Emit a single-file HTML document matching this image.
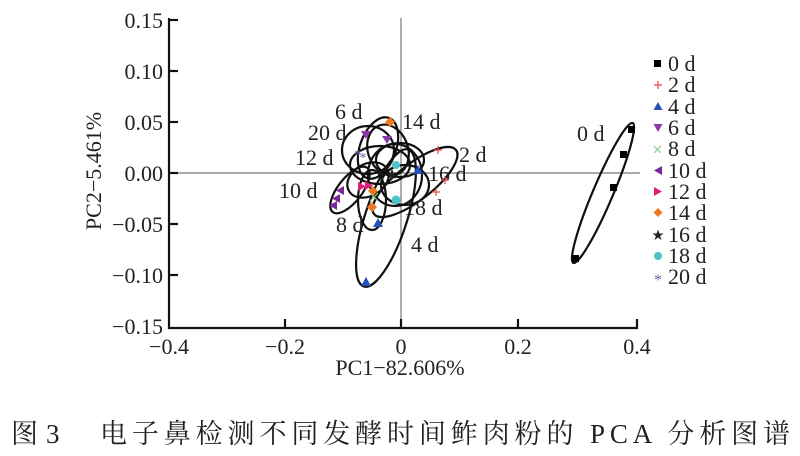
<!DOCTYPE html>
<html><head><meta charset="utf-8"><style>
body{margin:0;background:#fff;width:800px;height:451px;overflow:hidden}
svg text{font-family:"Liberation Serif","Noto Serif CJK SC",serif;fill:#222}
</style></head><body>
<svg width="800" height="451" viewBox="0 0 800 451" xmlns="http://www.w3.org/2000/svg">
<g stroke="#777" stroke-width="1.2"><line x1="401" y1="18" x2="401" y2="328"/><line x1="169" y1="173" x2="640" y2="173"/></g>
<g stroke="#111" stroke-width="2.2" fill="none">
<polyline points="169,18 169,328 638,328"/>
<line x1="169" y1="20" x2="178" y2="20"/><line x1="169" y1="71" x2="178" y2="71"/><line x1="169" y1="122" x2="178" y2="122"/><line x1="169" y1="173" x2="178" y2="173"/><line x1="169" y1="224" x2="178" y2="224"/><line x1="169" y1="275" x2="178" y2="275"/>
<line x1="285" y1="328" x2="285" y2="319"/><line x1="401" y1="328" x2="401" y2="319"/><line x1="518" y1="328" x2="518" y2="319"/><line x1="637" y1="328" x2="637" y2="319"/>
</g>
<g font-size="22" text-anchor="end">
<text x="163" y="28">0.15</text><text x="163" y="79">0.10</text><text x="163" y="130">0.05</text><text x="163" y="181">0.00</text><text x="163" y="232">−0.05</text><text x="163" y="283">−0.10</text><text x="163" y="334">−0.15</text>
</g>
<g font-size="22" text-anchor="middle">
<text x="169" y="354">−0.4</text><text x="285" y="354">−0.2</text><text x="401" y="354">0</text><text x="518" y="354">0.2</text><text x="637" y="354">0.4</text>
<text x="400" y="375">PC1−82.606%</text>
<text transform="translate(101,171) rotate(-90)">PC2−5.461%</text>
</g>
<g stroke="#111" stroke-width="2.2" fill="none">
<ellipse cx="603" cy="193" rx="76" ry="10" transform="rotate(-67 603 193)"/>
<ellipse cx="386" cy="218" rx="72" ry="21" transform="rotate(-72 386 218)"/>
<ellipse cx="415" cy="182" rx="52" ry="18" transform="rotate(-38 415 182)"/>
<ellipse cx="350" cy="190" rx="28" ry="12" transform="rotate(-52 350 190)"/>
<ellipse cx="368" cy="150" rx="26" ry="24"/>
<ellipse cx="378" cy="148" rx="18" ry="32" transform="rotate(20 378 148)"/>
<ellipse cx="380" cy="165" rx="30" ry="19"/>
<ellipse cx="395" cy="175" rx="27" ry="31"/>
<ellipse cx="372" cy="200" rx="14" ry="30"/>
<ellipse cx="368" cy="180" rx="22" ry="16" transform="rotate(-30 368 180)"/>
<ellipse cx="400" cy="160" rx="24" ry="17"/>
<ellipse cx="388" cy="150" rx="20" ry="26" transform="rotate(-20 388 150)"/>
<ellipse cx="405" cy="185" rx="24" ry="20"/>
</g>
<g font-size="22">
<text x="577" y="141">0 d</text><text x="459" y="162">2 d</text><text x="428" y="181">16 d</text><text x="404" y="215">18 d</text><text x="411" y="252">4 d</text><text x="336" y="232">8 d</text><text x="279" y="198">10 d</text><text x="295" y="165">12 d</text><text x="308" y="140">20 d</text><text x="335" y="119">6 d</text><text x="402" y="129">14 d</text>
</g>
<g>
<rect x="628" y="126" width="7" height="7" fill="#000"/><rect x="620" y="151" width="7" height="7" fill="#000"/><rect x="610" y="184" width="7" height="7" fill="#000"/><rect x="572" y="255" width="7" height="7" fill="#000"/>
<g stroke="#e44" stroke-width="1.2"><path d="M434 150h8M438 146v8M441 180h8M445 176v8M432 192h8M436 188v8"/></g>
<path d="M418 165l5 9h-10zM378 218l5 9h-10zM366 277l5 9h-10z" fill="#2850b8"/>
<path d="M361 131h10l-5 8zM382 136h10l-5 8z" fill="#8a3aa8"/>
<path d="M344 186v9l-8-4.5zM340 194v9l-8-4.5zM337 201v9l-8-4.5z" fill="#7a2a98"/>
<path d="M358 182v9l8-4.5zM365 181v9l8-4.5z" fill="#e0207a"/>
<path d="M390 117l5 5-5 5-5-5zM373 186l5 5-5 5-5-5zM372 202l5 5-5 5-5-5z" fill="#f07820"/>
<path d="M370 193l8 8M378 193l-8 8" stroke="#8c8" stroke-width="1.2"/>
<circle cx="396" cy="200" r="4.5" fill="#4cc4cc"/><circle cx="396" cy="165" r="4" fill="#4cc4cc"/>
<text x="392" y="178" font-size="12" text-anchor="middle">★</text>
<text x="358" y="159" font-size="14" text-anchor="middle" style="fill:#6a60a8">*</text><text x="363" y="162" font-size="14" text-anchor="middle" style="fill:#6a60a8">*</text>
</g>
<g font-size="22">
<rect x="654" y="60" width="7" height="7" fill="#000"/><text x="668" y="71">0 d</text>
<path d="M654 85h8M658 81v8" stroke="#e44" stroke-width="1.2"/><text x="668" y="92">2 d</text>
<path d="M658 102l4.5 8h-9z" fill="#2850b8"/><text x="668" y="114">4 d</text>
<path d="M653.5 124h9l-4.5 8z" fill="#8a3aa8"/><text x="668" y="135">6 d</text>
<path d="M654 146l7 7M661 146l-7 7" stroke="#8c8" stroke-width="1.2"/><text x="668" y="156">8 d</text>
<path d="M662 166v9l-8-4.5z" fill="#7a2a98"/><text x="668" y="178">10 d</text>
<path d="M654 187v9l8-4.5z" fill="#e0207a"/><text x="668" y="199">12 d</text>
<path d="M658 208l4.5 4.5-4.5 4.5-4.5-4.5z" fill="#f07820"/><text x="668" y="220">14 d</text>
<text x="658" y="239" font-size="12" text-anchor="middle">★</text><text x="668" y="242">16 d</text>
<circle cx="658" cy="256" r="4" fill="#4cc4cc"/><text x="668" y="263">18 d</text>
<text x="658" y="285" font-size="16" text-anchor="middle" style="fill:#6a60a8">*</text><text x="668" y="284">20 d</text>
</g>
<text x="11" y="443" font-size="27">图</text><text x="46" y="443" font-size="27">3</text>
<text x="100" y="443" font-size="27" textLength="690">电子鼻检测不同发酵时间鲊肉粉的 PCA 分析图谱</text>
</svg>
</body></html>
